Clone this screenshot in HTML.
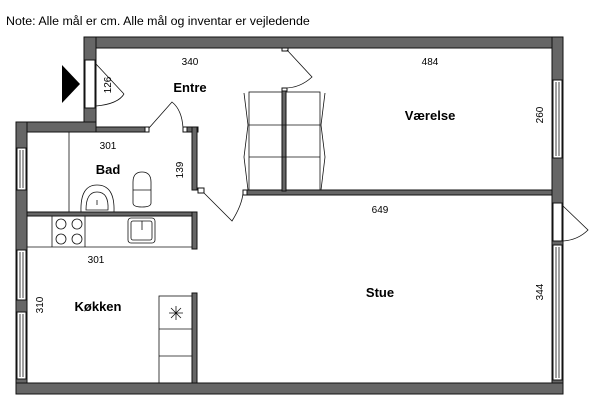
<!DOCTYPE html>
<html><head><meta charset="utf-8"><style>
html,body{margin:0;padding:0;background:#fff;width:600px;height:405px;overflow:hidden}
svg{display:block}
text{font-family:"Liberation Sans",sans-serif;fill:#000}
</style></head><body>
<svg width="600" height="405" viewBox="0 0 600 405" xmlns="http://www.w3.org/2000/svg">
<text x="6" y="25" font-size="12.4">Note: Alle mål er cm. Alle mål og inventar er vejledende</text>
<g fill="#666" stroke="#111" stroke-width="1">
<rect x="84" y="37" width="479" height="11"/>
<rect x="552" y="37" width="11" height="357"/>
<rect x="84" y="37" width="12" height="95"/>
<rect x="16" y="122" width="80" height="10"/>
<rect x="16" y="122" width="11" height="272"/>
<rect x="16" y="383" width="547" height="11"/>
<rect x="96" y="127" width="50" height="5"/>
<rect x="183" y="127" width="15" height="5"/>
<rect x="192" y="127" width="5" height="63"/>
<rect x="27" y="212" width="170" height="4"/>
<rect x="192" y="212" width="5" height="37"/>
<rect x="192" y="293" width="5" height="90"/>
<rect x="243" y="190" width="309" height="5"/>
<rect x="282" y="91" width="4" height="100"/>
</g>
<g fill="#fff" stroke="#111" stroke-width="1">
<rect x="85" y="60" width="10" height="48"/>
<rect x="17" y="148" width="9" height="42"/>
<rect x="17" y="250" width="9" height="50"/>
<rect x="17" y="312" width="9" height="67"/>
<rect x="553" y="80" width="9" height="78"/>
<rect x="553" y="203" width="9" height="38"/>
<rect x="553" y="245" width="9" height="135"/>
<rect x="145" y="127" width="4" height="5"/>
<rect x="183" y="127" width="4" height="5"/>
<rect x="198" y="188" width="6" height="5"/>
<rect x="243" y="190" width="4" height="5"/>
<rect x="282" y="48" width="6" height="3"/>
<rect x="282" y="88" width="5" height="3"/>
</g>
<g fill="none" stroke="#111" stroke-width="0.8">
<line x1="20" y1="150" x2="20" y2="188"/><line x1="23" y1="150" x2="23" y2="188"/>
<line x1="20" y1="252" x2="20" y2="298"/><line x1="23" y1="252" x2="23" y2="298"/>
<line x1="20" y1="314" x2="20" y2="377"/><line x1="23" y1="314" x2="23" y2="377"/>
<line x1="556" y1="82" x2="556" y2="156"/><line x1="559" y1="82" x2="559" y2="156"/>
<line x1="556" y1="247" x2="556" y2="378"/><line x1="559" y1="247" x2="559" y2="378"/>
<path d="M96 64 L124 94 M96 106 Q118 104 124 94"/>
<path d="M149 128 L172 102 Q182 110 183 128"/>
<path d="M204 193 L232 221 Q242 205 243 193"/>
<path d="M287 50 L312 77 Q300 88 285 88"/>
<path d="M563 206 L588 230 Q578 240 563 241"/>
<rect x="249" y="92" width="33" height="98"/><rect x="286" y="92" width="34" height="98"/>
<line x1="249" y1="125" x2="320" y2="125"/><line x1="249" y1="157" x2="320" y2="157"/>
<path d="M244 93 L248 125 L244 157 L248 190"/>
<path d="M325 93 L321 125 L325 157 L321 190"/>
<line x1="69" y1="132" x2="69" y2="212"/>
<path d="M81 212 Q80 185 97 185 Q115 185 114 212"/>
<path d="M86 210 Q86 192 97 192 Q109 192 108 210 Z"/>
<line x1="97" y1="200" x2="97" y2="205"/>
<path d="M133 203 L133 182 Q133 172 142 172 Q151 172 151 182 L151 203 Q151 207 142 207 Q133 207 133 203 Z"/>
<line x1="133" y1="190" x2="151" y2="190"/>
<line x1="27" y1="247" x2="192" y2="247"/>
<line x1="52" y1="216" x2="52" y2="247"/><line x1="85" y1="216" x2="85" y2="247"/>
<circle cx="61" cy="224" r="5"/><circle cx="77" cy="224" r="5"/>
<circle cx="61" cy="239" r="5"/><circle cx="77" cy="239" r="5"/>
<rect x="128" y="218" width="27" height="25" rx="3"/><rect x="131" y="221" width="21" height="19" rx="2"/>
<line x1="142" y1="221" x2="142" y2="230"/>
<rect x="159" y="296" width="33" height="87"/>
<line x1="159" y1="329" x2="192" y2="329"/><line x1="159" y1="356" x2="192" y2="356"/>
<path d="M169 313 H183 M176 306 V320 M171 308 L181 318 M181 308 L171 318"/>
</g>
<polygon points="62,65 80,84 62,103" fill="#000"/>
<g font-size="10" text-anchor="middle">
<text x="190" y="65">340</text>
<text x="430" y="65">484</text>
<text x="108" y="149">301</text>
<text x="380" y="213">649</text>
<text x="96" y="263">301</text>
<text transform="translate(111,85) rotate(-90)">126</text>
<text transform="translate(183,170) rotate(-90)">139</text>
<text transform="translate(543,115) rotate(-90)">260</text>
<text transform="translate(543,292) rotate(-90)">344</text>
<text transform="translate(43,305) rotate(-90)">310</text>
</g>
<g font-size="13" font-weight="bold" text-anchor="middle">
<text x="190" y="92">Entre</text>
<text x="430" y="120">Værelse</text>
<text x="108" y="174">Bad</text>
<text x="98" y="311">Køkken</text>
<text x="380" y="297">Stue</text>
</g>
</svg>
</body></html>
